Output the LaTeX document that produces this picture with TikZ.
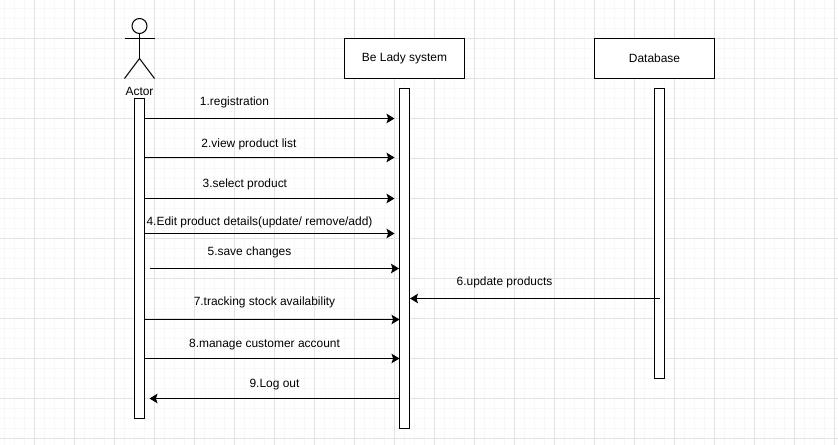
\documentclass[tikz,border=0pt]{standalone}
\usepackage{fontspec}
\setsansfont{Liberation Sans}
\usepackage{xcolor}
\definecolor{GridMajor}{HTML}{E2E2E2}
\definecolor{GridMinor}{HTML}{F8F8F8}
\usetikzlibrary{arrows.meta, positioning}

\begin{document}
\begin{tikzpicture}[
  line width=0.75pt,
  % Kopfbox der Lebenslinie
  headbox/.style={
    draw=black,
    fill=white,
    minimum width=3cm,
    minimum height=1cm,
    font=\sffamily\fontsize{8.5}{10}\selectfont,
    inner sep=0pt
  },
  % Aktivierungsbalken
  bar/.style={
    draw=black,
    fill=white,
    minimum width=0.25cm,
    inner sep=0pt
  },
  % Nachricht
  msg/.style={
    draw=black,
    -{Stealth[length=0.2cm, width=0.24cm, inset=0.04cm]}
  },
  % Nachrichtentext
  msglbl/.style={
    font=\sffamily\fontsize{8.5}{10}\selectfont,
    text=black,
    inner sep=0pt,
    text height=6.2pt,
    text depth=1.8pt
  }
]

% =============================================================================
% HINTERGRUND
% =============================================================================
\useasboundingbox (-0.8625,-1.1375) rectangle (20.0875,9.9625);
\fill[white] (-0.8625,-1.1375) rectangle (20.0875,9.9625);
\begin{scope}
  \clip (-0.8625,-1.1375) rectangle (20.0875,9.9625);
  \draw[GridMinor, line width=0.71pt, step=0.25] (-1,-1.25) grid (20.25,10);
  \draw[GridMajor, line width=0.71pt, step=1] (-1,-2) grid (21,10);
\end{scope}

% =============================================================================
% ACTOR
% =============================================================================
\node[draw=black, circle, minimum size=0.375cm, inner sep=0pt] (head) at (2.625,9.3125) {};
\coordinate (hip) at (2.625,8.5);
\coordinate (armL) at (2.25,9);
\coordinate (armR) at (3,9);
\coordinate (footL) at (2.25,8);
\coordinate (footR) at (3,8);
\draw (head.south) -- (hip);
\draw (armL) -- (armR);
\draw (footL) -- (hip) -- (footR);
\node[msglbl] (actor) at (2.625,7.64) {Actor};
\node[bar, minimum height=8cm] (actorbar) at (2.625,3.5) {};

% =============================================================================
% SYSTEM
% =============================================================================
\node[headbox] (system) at (9.25,8.5) {Be Lady system};
\node[bar, minimum height=8.5cm] (systembar) at (9.25,3.5) {};

% =============================================================================
% DATABASE
% =============================================================================
\node[headbox] (database) at (15.5,8.5) {Database};
\node[bar, minimum height=7.25cm] (databasebar) at (15.625,4.125) {};

% =============================================================================
% NACHRICHTEN
% =============================================================================
% 1.registration
\coordinate (regend) at (9,7);
\draw[msg] (actorbar.east |- regend) -- (regend);
\node[msglbl] (reglbl) at (5,7.4) {1.registration};

% 2.view product list
\coordinate (viewend) at (9,6.025);
\draw[msg] (actorbar.east |- viewend) -- (viewend);
\node[msglbl] (viewlbl) at (5.36,6.34) {2.view product list};

% 3.select product
\coordinate (selend) at (9,5);
\draw[msg] (actorbar.east |- selend) -- (selend);
\node[msglbl] (sellbl) at (5.26,5.34) {3.select product};

% 4.Edit product details
\coordinate (editend) at (9,4.125);
\draw[msg] (actorbar.east |- editend) -- (editend);
\node[msglbl] (editlbl) at (5.625,4.39) {4.Edit product details(update/ remove/add)};

% 5.save changes
\coordinate (savestart) at (2.875,3.25);
\draw[msg] (savestart) -- (systembar.west |- savestart);
\node[msglbl] (savelbl) at (5.375,3.64) {5.save changes};

% 6.update products
\coordinate (updstart) at (databasebar.center |- 0,2.5);
\draw[msg] (updstart) -- (systembar.east |- updstart);
\node[msglbl] (updlbl) at (11.75,2.89) {6.update products};

% 7.tracking stock availability
\coordinate (trackend) at (9.125,1.975);
\draw[msg] (actorbar.east |- trackend) -- (trackend);
\node[msglbl] (tracklbl) at (5.75,2.39) {7.tracking stock availability};

% 8.manage customer account
\coordinate (mgmtend) at (9.125,1);
\draw[msg] (actorbar.east |- mgmtend) -- (mgmtend);
\node[msglbl] (mgmtlbl) at (5.75,1.34) {8.manage customer account};

% 9.Log out
\coordinate (logend) at (2.875,0);
\draw[msg] (systembar.west |- logend) -- (logend);
\node[msglbl] (loglbl) at (6,0.34) {9.Log out};

\end{tikzpicture}
\end{document}
